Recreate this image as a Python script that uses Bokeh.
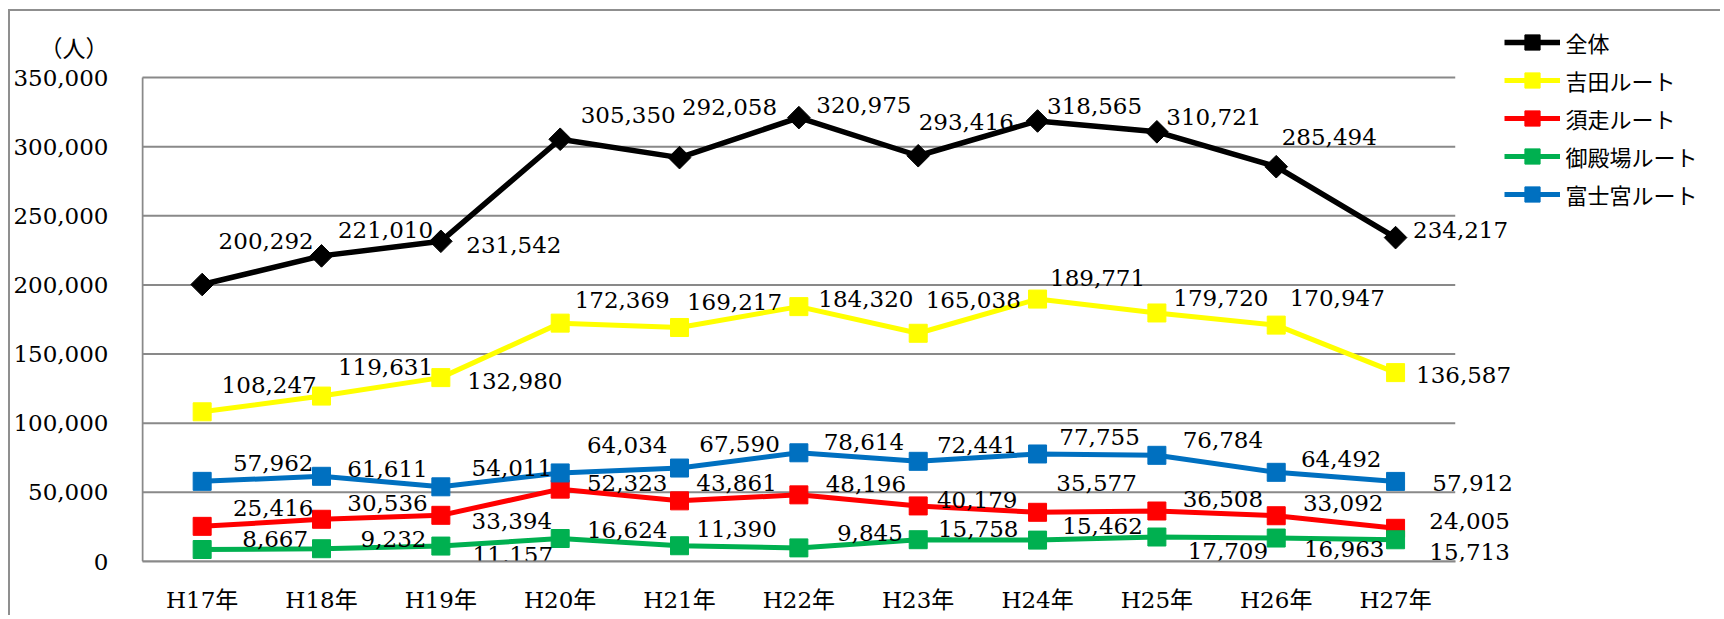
import numpy as np
from bokeh.plotting import figure
from bokeh.models import (ColumnDataSource, Range1d, NumeralTickFormatter,
                          FixedTicker, Legend, LegendItem, CustomJSTickFormatter)
from bokeh.core.properties import value
from bokeh.embed import file_html
from bokeh.resources import INLINE

# ---------------- data ----------------
years = ["H17年", "H18年", "H19年", "H20年", "H21年", "H22年",
         "H23年", "H24年", "H25年", "H26年", "H27年"]
total = [200292, 221010, 231542, 305350, 292058, 320975, 293416, 318565, 310721, 285494, 234217]
yoshida = [108247, 119631, 132980, 172369, 169217, 184320, 165038, 189771, 179720, 170947, 136587]
subashiri = [25416, 30536, 33394, 52323, 43861, 48196, 40179, 35577, 36508, 33092, 24005]
gotemba = [8667, 9232, 11157, 16624, 11390, 9845, 15758, 15462, 17709, 16963, 15713]
fujinomiya = [57962, 61611, 54011, 64034, 67590, 78614, 72441, 77755, 76784, 64492, 57912]
series_names = ["全体", "吉田ルート", "須走ルート", "御殿場ルート", "富士宮ルート"]
y_ticks = [0, 50000, 100000, 150000, 200000, 250000, 300000, 350000]
y_unit = "（人）"

# ---------------- label offsets (screen px) ----------------
off_total = [(64, -44), (64, -26), (73, 4), (68, -24), (50, -51), (65, -13), (48, -34), (57, -15), (57, -15), (53, -30), (65, -8)]
off_yoshida = [(67, -27), (64, -29), (74, 3), (62, -23), (55, -25), (67, -8), (55, -33), (60, -21), (64, -15), (61, -27), (68, 2)]
off_subashiri = [(71, -18), (66, -16), (71, 6), (67, -6), (57, -18), (67, -11), (59, -6), (59, -29), (66, -12), (67, -13), (74, -7)]
off_gotemba = [(73, -11), (72, -10), (72, 9), (67, -9), (57, -17), (71, -15), (60, -11), (65, -14), (71, 14), (68, 11), (74, 12)]
off_fujinomiya = [(71, -18), (66, -7), (71, -19), (67, -28), (60, -24), (65, -11), (59, -16), (62, -17), (66, -15), (65, -13), (77, 2)]

# ---------------- styles / layout ----------------
colors = ["#000000", "#FFFF00", "#FF0000", "#00B050", "#0070C0"]
GRID = "#898989"
NUM_FONT = "DejaVu Serif"
CJK_FONT = "Noto Sans CJK JP"

BORDER = 2
MX, MY = 8, 9               # css margin of the figure
OX, OY = MX + BORDER, MY + BORDER   # canvas origin on the page
W, H = 1712, 606
STEP = 119.37               # px per category
Y0_PAGE, Y350_PAGE = 561, 77
PX_PER_UNIT = (Y0_PAGE - Y350_PAGE) / 350000
FRAME_LEFT = 140.6
FRAME_TOP = OY
FRAME_RIGHT = OX + W
FRAME_BOTTOM = Y0_PAGE

x_idx = list(range(len(years)))
x_start = -0.5 - (141.6 - FRAME_LEFT) / STEP
x_end = x_start + (FRAME_RIGHT - FRAME_LEFT) / STEP
y_end = (FRAME_BOTTOM - FRAME_TOP) / PX_PER_UNIT
unit_val = (FRAME_BOTTOM - 48) / PX_PER_UNIT

p = figure(x_range=Range1d(x_start, x_end), y_range=Range1d(0, y_end),
           width=W, height=H, output_backend="svg", toolbar_location=None,
           min_border_left=int(round(FRAME_LEFT - OX)),
           min_border_top=0,
           min_border_bottom=int(OY + H - FRAME_BOTTOM),
           min_border_right=0)
p.styles = {"margin-left": f"{MX}px", "margin-top": f"{MY}px",
            "border-left": f"{BORDER}px solid #8f8f8f", "border-top": f"{BORDER}px solid #8f8f8f"}
p.outline_line_color = None
p.background_fill_color = "white"
p.border_fill_color = "white"
p.xgrid.grid_line_color = None
p.ygrid.grid_line_color = None

# axes
p.xaxis.ticker = FixedTicker(ticks=x_idx)
p.xaxis.major_label_overrides = {i: y for i, y in zip(x_idx, years)}
p.xaxis.bounds = (-0.5, len(years) - 0.5)
p.yaxis.ticker = FixedTicker(ticks=y_ticks + [unit_val])
p.yaxis.formatter = NumeralTickFormatter(format="0,0")
p.yaxis.major_label_overrides = {unit_val: y_unit}

for ax in (p.xaxis[0], p.yaxis[0]):
    ax.axis_line_color = GRID
    ax.axis_line_width = 2
    ax.major_tick_line_color = None
    ax.minor_tick_line_color = None
    ax.major_tick_in = 0
    ax.major_tick_out = 0
    ax.major_label_text_font = f"{NUM_FONT}, {CJK_FONT}"
    ax.major_label_text_font_size = "23px"
    ax.major_label_text_color = "#000000"
p.yaxis.axis_line_color = None
p.yaxis.major_label_standoff = 33
p.xaxis.major_label_standoff = 25

# gridlines and y axis line (only over the category span)
p.segment(x0=[-0.5] * len(y_ticks), x1=[len(years) - 0.5] * len(y_ticks),
          y0=y_ticks, y1=y_ticks, line_color=GRID, line_width=2)
p.segment(x0=[-0.5], x1=[-0.5], y0=[y_ticks[0]], y1=[y_ticks[-1]], line_color=GRID, line_width=2)

series = [total, yoshida, subashiri, gotemba, fujinomiya]
offsets = [off_total, off_yoshida, off_subashiri, off_gotemba, off_fujinomiya]
items = []
for name, vals, col in zip(series_names, series, colors):
    src = ColumnDataSource(dict(x=x_idx, y=vals))
    lr = p.line("x", "y", source=src, line_color=col, line_width=5.5 if col == "#000000" else 5)
    if col == "#000000":
        sr = p.scatter("x", "y", source=src, marker="square", size=16, angle=np.pi / 4,
                       fill_color=col, line_color=col)
    else:
        sr = p.scatter("x", "y", source=src, marker="square", size=18,
                       fill_color=col, line_color=col)
    items.append(LegendItem(label=name, renderers=[lr, sr]))

for vals, offs in zip(series, offsets):
    src = ColumnDataSource(dict(x=x_idx, y=vals, t=[f"{v:,}" for v in vals],
                                dx=[o[0] for o in offs], dy=[o[1] for o in offs]))
    p.text("x", "y", text="t", source=src, x_offset="dx", y_offset="dy",
           text_align="center", text_baseline="middle",
           text_font=value(NUM_FONT), text_font_size="23px", text_color="#000000")

# legend
LEG_ROW = 38
leg_top = 23
leg_h = LEG_ROW * len(items)
legend = Legend(items=items, location=(1504 - FRAME_LEFT, FRAME_BOTTOM - leg_top - leg_h),
                orientation="vertical", padding=0, margin=0, spacing=0,
                glyph_width=56, glyph_height=LEG_ROW, label_height=LEG_ROW,
                label_standoff=5, label_text_font=CJK_FONT, label_text_font_size="22px",
                label_text_color="#000000", border_line_color=None, background_fill_alpha=0)
p.add_layout(legend, "center")

open("out.html", "w").write(file_html(p, INLINE))
